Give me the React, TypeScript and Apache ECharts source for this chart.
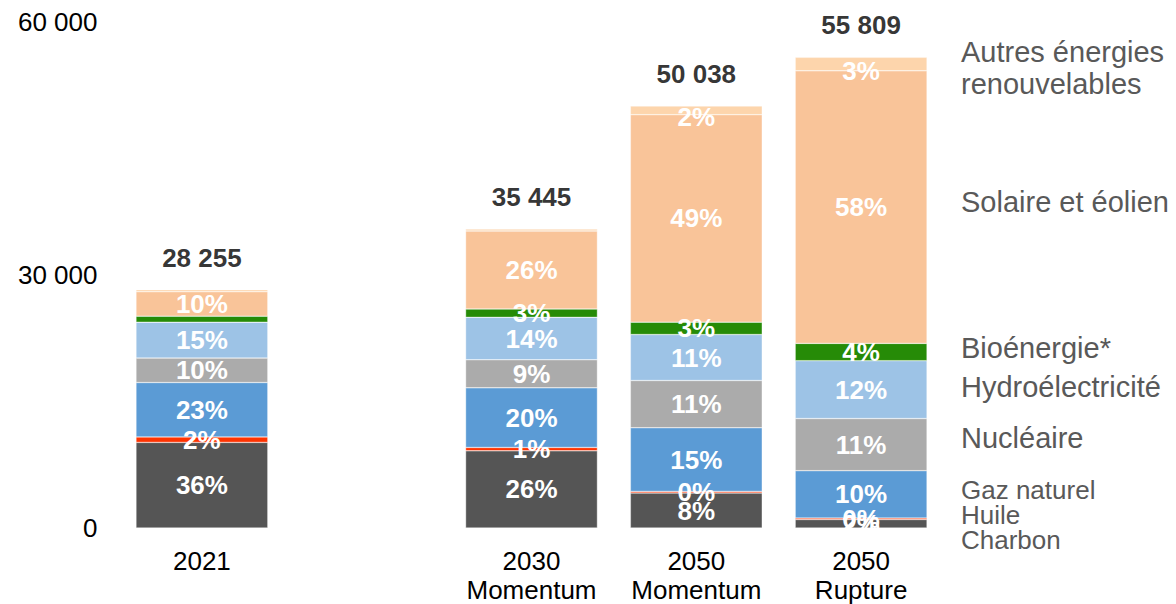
import React, { useEffect, useRef } from "react";
import * as echarts from "echarts";

const categories = ["2021", "", "2030\nMomentum", "2050\nMomentum", "2050\nRupture"];

const charbon = [10150, null, 9150, 4150, 1009];
const huile = [650, null, 400, 190, 170];
const gaz = [6450, null, 7070, 7550, 5620];
const nucleaire = [2900, null, 3330, 5600, 6180];
const hydro = [4250, null, 5030, 5450, 6860];
const bio = [720, null, 990, 1470, 2050];
const solaire = [2900, null, 9245, 24600, 32320];
const autres = [235, null, 230, 1028, 1600];

const yTicks = [0, 30000, 60000];

const seriesDefs = [
  { name: "Charbon", data: charbon, color: "#555555", labelDy: 0 },
  { name: "Huile", data: huile, color: "#FF3300", labelDy: 0 },
  { name: "Gaz naturel", data: gaz, color: "#5B9BD5", labelDy: 0 },
  { name: "Nucléaire", data: nucleaire, color: "#ABABAB", labelDy: 0 },
  { name: "Hydroélectricité", data: hydro, color: "#9DC3E6", labelDy: 0 },
  { name: "Bioénergie*", data: bio, color: "#268B07", labelDy: 0 },
  { name: "Solaire et éolien", data: solaire, color: "#F9C499", labelDy: 0 },
  { name: "Autres énergies renouvelables", data: autres, color: "#FDD5AC", labelDy: 7 },
];

// labels not shown in the reference: [series name, category index]
const hiddenLabels = [
  ["Bioénergie*", 0],
  ["Autres énergies renouvelables", 0],
  ["Autres énergies renouvelables", 2],
];

const legendItems = [
  { text: "Autres énergies\nrenouvelables", y: 68, size: 29 },
  { text: "Solaire et éolien", y: 202, size: 29 },
  { text: "Bioénergie*", y: 348, size: 29 },
  { text: "Hydroélectricité", y: 387, size: 29 },
  { text: "Nucléaire", y: 438, size: 29 },
  { text: "Gaz naturel", y: 490, size: 26 },
  { text: "Huile", y: 515, size: 26 },
  { text: "Charbon", y: 540, size: 26 },
];

const fmt = (v: number) => String(v).replace(/\B(?=(\d{3})+(?!\d))/g, " ");

const totals = categories.map((_, i) => {
  let s = 0;
  let any = false;
  seriesDefs.forEach((d) => {
    const v = d.data[i];
    if (v != null) {
      s += v;
      any = true;
    }
  });
  return any ? s : null;
});

const FONT = "'Liberation Sans', Arial, Helvetica, sans-serif";

export default function App() {
  const ref = useRef<HTMLDivElement>(null);
  useEffect(() => {
    if (!ref.current) return;
    const chart = echarts.init(ref.current, undefined, { renderer: "svg" });
    const barSeries = seriesDefs.map((d) => ({
      name: d.name,
      type: "bar",
      stack: "total",
      barWidth: "80%",
      itemStyle: { color: d.color, borderColor: "rgba(255,255,255,0.7)", borderWidth: 0.5 },
      label: {
        show: true,
        position: "inside",
        offset: [0, d.labelDy],
        color: "#ffffff",
        fontWeight: "bold",
        fontSize: 26,
        fontFamily: FONT,
        formatter: (p: any) => {
          const t = totals[p.dataIndex];
          if (p.value == null || !t) return "";
          return Math.round((p.value / t) * 100) + "%";
        },
      },
      data: d.data.map((v, i) => {
        const hide = hiddenLabels.some((h) => h[0] === d.name && h[1] === i);
        if (v == null) return "-";
        return hide ? { value: v, label: { show: false } } : v;
      }),
    }));

    chart.setOption({
      animation: false,
      textStyle: { fontFamily: FONT },
      grid: { left: 119.5, right: 232.5, top: 22, bottom: 76, containLabel: false },
      xAxis: {
        type: "category",
        data: categories,
        axisLine: { show: false },
        axisTick: { show: false },
        axisLabel: {
          color: "#000000",
          fontSize: 26,
          lineHeight: 29,
          margin: 18,
          fontFamily: FONT,
          interval: 0,
        },
      },
      yAxis: {
        type: "value",
        min: yTicks[0],
        max: yTicks[yTicks.length - 1],
        interval: yTicks[1] - yTicks[0],
        axisLine: { show: false },
        axisTick: { show: false },
        splitLine: { show: false },
        axisLabel: {
          color: "#000000",
          fontSize: 26,
          margin: 22,
          fontFamily: FONT,
          formatter: (v: number) => fmt(v),
        },
      },
      series: [
        ...barSeries,
        {
          name: "Total",
          type: "scatter",
          symbolSize: 0,
          z: 10,
          itemStyle: { color: "#000000" },
          data: totals.map((t) => (t == null ? "-" : t)),
          label: {
            show: true,
            position: "top",
            distance: 19,
            color: "#000000",
            fontWeight: "bold",
            fontSize: 26,
            fontFamily: FONT,
            formatter: (p: any) => fmt(p.value),
          },
        },
      ],
      graphic: legendItems.map((l) => ({
        type: "text",
        x: 961,
        y: l.y,
        style: {
          text: l.text,
          fill: "#595959",
          fontSize: l.size,
          lineHeight: 32,
          fontFamily: FONT,
          textVerticalAlign: "middle",
          verticalAlign: "middle",
          textAlign: "left",
        },
      })),
    });
    return () => chart.dispose();
  }, []);
  return (
    <div
      ref={ref}
      style={{ position: "absolute", left: 0, top: 0, width: 1176, height: 604 }}
    />
  );
}
